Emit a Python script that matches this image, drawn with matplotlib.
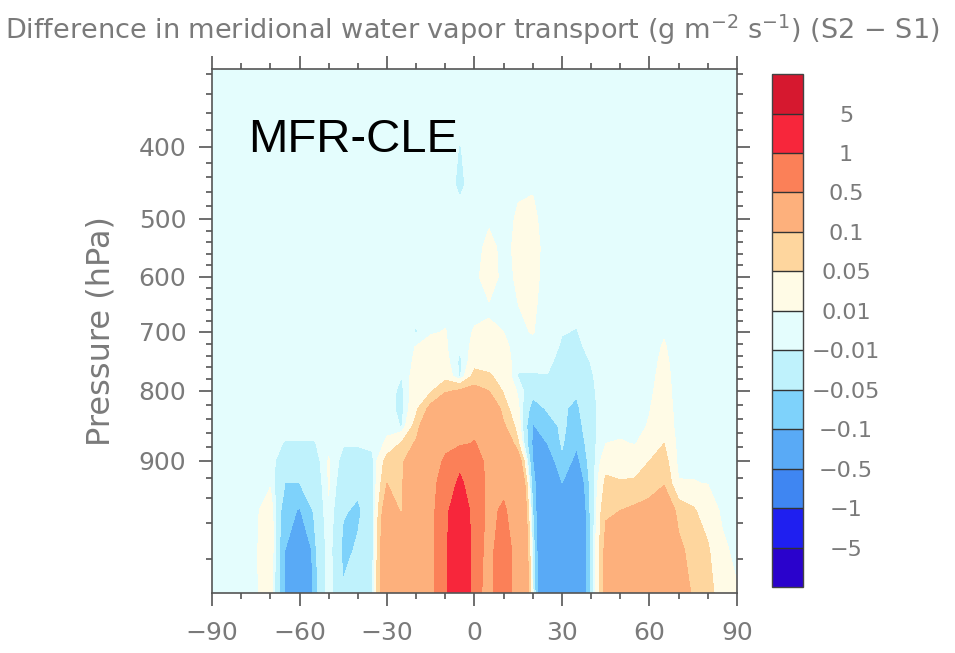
import numpy as np
import matplotlib
matplotlib.use("Agg")
import matplotlib.pyplot as plt
from matplotlib.ticker import FixedLocator, FixedFormatter


# Latitude (deg) and pressure levels (hPa) of the cross-section
LATS = list(range(-90, 91, 5))
PLEV = [1000, 975, 950, 925, 900, 875, 850, 825, 800, 775, 750,
        725, 700, 650, 600, 550, 500, 450, 400, 350, 300]

# S2 - S1 meridional water vapour transport (g m-2 s-1), one row per latitude,
# values running from 1000 hPa up to 300 hPa
DIFF_BY_LAT = [
    [0] * 21,                                                                              # -90
    [0] * 21,                                                                              # -85
    [0.003, 0.002] + [0] * 19,                                                             # -80
    [0.006, 0.006, 0.004] + [0] * 18,                                                      # -75
    [0.03, 0.035, 0.03, 0.006] + [0] * 17,                                                 # -70
    [-0.1, -0.1, -0.08, -0.05, -0.03, -0.012] + [0] * 15,                                  # -65
    [-0.4, -0.3, -0.105, -0.05, -0.03, -0.012] + [0] * 15,                                 # -60
    [-0.07, -0.06, -0.045, -0.035, -0.025, -0.012] + [0] * 15,                             # -55
    [0.004, 0.004, 0.008, 0.012, 0.012, 0.004] + [0] * 15,                                 # -50
    [-0.045, -0.06, -0.045, -0.03, -0.02, -0.008] + [0] * 15,                              # -45
    [-0.03, -0.045, -0.058, -0.035, -0.02, -0.008] + [0] * 15,                             # -40
    [-0.015, -0.02, -0.022, -0.02, -0.015, -0.006] + [0] * 15,                             # -35
    [0.2, 0.2, 0.16, 0.1, 0.07, 0.015, 0.003] + [0] * 14,                                  # -30
    [0.3, 0.22, 0.09, 0.085, 0.08, 0.055, -0.012, -0.018, -0.016, -0.01, -0.003] + [0] * 10,  # -25
    [0.32, 0.32, 0.3, 0.27, 0.2, 0.11, 0.07, 0.04, 0.03, 0.025, 0.015, 0.011, -0.012,
     -0.002] + [0] * 7,                                                                    # -20
    [0.38, 0.38, 0.38, 0.36, 0.33, 0.28, 0.2, 0.12, 0.045, 0.03, 0.025, 0.018, 0.008]
    + [0] * 8,                                                                             # -15
    [0.85, 0.85, 0.8, 0.7, 0.55, 0.42, 0.3, 0.2, 0.09, 0.035, 0.02, 0.013, 0.011, 0.003]
    + [0] * 7,                                                                             # -10
    [2.0, 2.0, 1.6, 1.1, 0.85, 0.45, 0.35, 0.25, 0.11, -0.015, -0.015, -0.008, 0, 0, 0,
     0, 0, -0.015, -0.011, 0, 0],                                                          # -5
    [0.6, 0.65, 0.7, 0.7, 0.65, 0.52, 0.4, 0.3, 0.12, 0.07, 0.03, 0.02, 0.012, 0.003,
     0.005, 0, 0, 0, 0, 0, 0],                                                             # 0
    [0.4, 0.4, 0.42, 0.42, 0.4, 0.35, 0.28, 0.2, 0.1, 0.055, 0.035, 0.02, 0.011, 0.009,
     0.02, 0.018, 0.006, 0, 0, 0, 0],                                                      # 5
    [0.7, 0.7, 0.55, 0.4, 0.3, 0.2, 0.11, 0.07, 0.045, 0.035, 0.025, 0.015, 0.01, 0.006,
     0.004, 0.003, 0, 0, 0, 0, 0],                                                         # 10
    [0.35, 0.33, 0.3, 0.25, 0.15, 0.055, 0.03, 0.015, 0.005, -0.012, -0.004, 0.002,
     0.007, 0.01, 0.013, 0.016, 0.014, 0.006, 0, 0, 0],                                    # 15
    [-0.005, -0.02, -0.05, -0.08, -0.1, -0.11, -0.105, -0.07, -0.035, -0.012, -0.004,
     0.005, 0.011, 0.014, 0.018, 0.02, 0.015, 0.008, 0, 0, 0],                             # 20
    [-0.3, -0.3, -0.28, -0.2, -0.14, -0.1, -0.07, -0.045, -0.025, -0.011, -0.005]
    + [0] * 10,                                                                            # 25
    [-0.3, -0.28, -0.2, -0.1, -0.06, -0.045, -0.042, -0.045, -0.035, -0.025, -0.018,
     -0.013, -0.009, -0.003] + [0] * 7,                                                    # 30
    [-0.25, -0.25, -0.22, -0.18, -0.12, -0.09, -0.07, -0.058, -0.045, -0.03, -0.02,
     -0.014, -0.011, -0.004] + [0] * 7,                                                    # 35
    [-0.04, -0.04, -0.035, -0.03, -0.025, -0.02, -0.018, -0.016, -0.014, -0.012,
     -0.009, -0.005, -0.002] + [0] * 8,                                                    # 40
    [0.12, 0.12, 0.09, 0.06, 0.03, 0.01, 0.002] + [0] * 14,                                # 45
    [0.25, 0.2, 0.1, 0.052, 0.035, 0.012, 0.004] + [0] * 14,                               # 50
    [0.28, 0.25, 0.11, 0.055, 0.03, 0.009, 0.003] + [0] * 14,                              # 55
    [0.3, 0.28, 0.12, 0.07, 0.05, 0.02, 0.012, 0.009, 0.006, 0.004, 0.003, 0.002]
    + [0] * 9,                                                                             # 60
    [0.3, 0.28, 0.2, 0.09, 0.07, 0.05, 0.03, 0.025, 0.02, 0.018, 0.015, 0.012, 0.008,
     0.002] + [0] * 7,                                                                     # 65
    [0.15, 0.12, 0.07, 0.012] + [0] * 17,                                                  # 70
    [0.09, 0.07, 0.055, 0.011, 0.004] + [0] * 16,                                          # 75
    [0.065, 0.055, 0.03, 0.009, 0.002] + [0] * 16,                                         # 80
    [0.03, 0.015, 0.004] + [0] * 18,                                                       # 85
    [0.012, 0.004] + [0] * 19,                                                             # 90
]

LEVELS = [-5, -1, -0.5, -0.1, -0.05, -0.01, 0.01, 0.05, 0.1, 0.5, 1, 5]
LEVEL_LABELS = ["\u22125", "\u22121", "\u22120.5", "\u22120.1", "\u22120.05", "\u22120.01",
                "0.01", "0.05", "0.1", "0.5", "1", "5"]
COLORS = ["#2a02cc", "#1f1ff0", "#3f86f2", "#59aaf6", "#7ed2fb", "#bff2fc", "#e4fdfd",
          "#fffbe6", "#fed69e", "#fdb07c", "#fb8058", "#f7263b", "#d6182f"]

XTICKS = [-90, -60, -30, 0, 30, 60, 90]
YTICKS = [400, 500, 600, 700, 800, 900]

# model-level axis: pressure of the tick marks and their height on the frame
AXIS_P = [300, 320, 340, 360, 380, 400, 420, 440, 460, 480, 500, 600, 700, 800, 900,
          920, 940, 960, 980, 1000]
AXIS_Y = [54, 74, 94, 113, 130, 147, 163, 177, 192, 206, 219, 277, 332, 391, 461,
          478, 498, 523, 559, 593]

GRAY = "#7a7a7a"
FRAME = "#555555"


def p_to_axis(p):
    return np.interp(p, AXIS_P, AXIS_Y)


def axis_to_p(y):
    return np.interp(y, AXIS_Y, AXIS_P)


field = np.array(DIFF_BY_LAT, dtype=float).T

fig = plt.figure(figsize=(9.55, 6.53), dpi=100)
ax = fig.add_axes([0.222, 0.0919, 0.5497, 0.8025])
ax.set_yscale("function", functions=(p_to_axis, axis_to_p))

bounds = [-100] + LEVELS + [100]
cs = ax.contourf(LATS, PLEV, field, levels=bounds, colors=COLORS)
ax.set_xlim(-90, 90)
ax.set_ylim(1000, 315)

ax.xaxis.set_major_locator(FixedLocator(XTICKS))
ax.xaxis.set_major_formatter(FixedFormatter([f"{v}".replace("-", "\u2212") for v in XTICKS]))
ax.xaxis.set_minor_locator(FixedLocator([v for v in range(-80, 90, 10) if v % 30]))
ax.yaxis.set_major_locator(FixedLocator(YTICKS))
ax.yaxis.set_major_formatter(FixedFormatter([str(v) for v in YTICKS]))
ax.yaxis.set_minor_locator(FixedLocator([v for v in range(320, 1000, 20) if v % 100]))

ax.tick_params(which="both", direction="out", top=True, right=True, color=FRAME,
               width=1.2)
ax.tick_params(which="major", length=9.5, labelsize=18, labelcolor=GRAY)
ax.tick_params(which="minor", length=4.5)
ax.tick_params(axis="x", which="major", pad=11)
ax.tick_params(axis="y", which="major", pad=9)
for spine in ax.spines.values():
    spine.set_color(FRAME)
    spine.set_linewidth(1.2)

fig.text(101 / 955, 0.5 * (0.0919 * 2 + 0.8025), "Pressure (hPa)", rotation=90,
         ha="center", va="center", fontsize=23, color=GRAY)

ax.text(0.0686, 0.8416, "MFR-CLE", transform=ax.transAxes, fontsize=34,
        family="Liberation Sans", color="black", va="baseline", ha="left")

fig.text(0.495, 0.954,
         "Difference in meridional water vapor transport (g m$^{-2}$ s$^{-1}$) (S2 \u2212 S1)",
         ha="center", va="center", fontsize=19.5, color=GRAY)

# colour key with equal boxes
cax = fig.add_axes([0.8084, 0.101, 0.0325, 0.7856])
cb = fig.colorbar(cs, cax=cax, ticks=LEVELS, drawedges=True, spacing="uniform")
cb.ax.set_yticklabels(LEVEL_LABELS)
cb.ax.tick_params(length=0, pad=31, labelsize=16, labelcolor=GRAY)
for lab in cb.ax.get_yticklabels():
    lab.set_ha("center")
cb.outline.set_edgecolor("#444444")
cb.outline.set_linewidth(1.0)
cb.dividers.set_color("#333333")
cb.dividers.set_linewidth(1.0)

fig.savefig("out.png", dpi=100)
